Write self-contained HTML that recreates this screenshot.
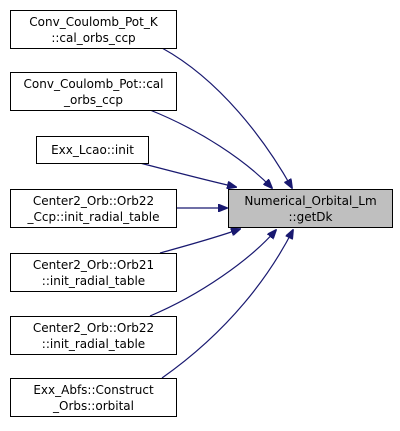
<!DOCTYPE html><html><head><style>body{margin:0;background:#fff}svg{display:block}text{font-family:"DejaVu Sans","Liberation Sans",sans-serif;font-size:12px;fill:#000}</style></head><body>
<svg width="400" height="431" viewBox="0 0 400 431">
<defs><marker id="a" markerWidth="10" markerHeight="8" refX="9" refY="4" orient="auto" markerUnits="userSpaceOnUse"><path d="M0,0L10,4L0,8z" fill="#191970" stroke="#191970"/></marker></defs>
<g fill="none" stroke="#191970" stroke-width="1.2" marker-end="url(#a)">
<path d="M162,48 C220,80 265,140 292,188"/>
<path d="M150,110 C200,130 245,160 272,188"/>
<path d="M140,163 C175,172 205,180 236,187"/>
<path d="M177,208 L227,208"/>
<path d="M160,253 C185,246 215,238 240,229"/>
<path d="M150,316 C200,295 250,260 276,230"/>
<path d="M162,378 C230,330 270,275 293,230"/>
</g>
<g stroke="#000" stroke-width="1" fill="#fff">
<rect x="10.5" y="10.5" width="166" height="38"/>
<rect x="10.5" y="72.5" width="166" height="38"/>
<rect x="36.5" y="136.5" width="112" height="27"/>
<rect x="10.5" y="189.5" width="166" height="38"/>
<rect x="10.5" y="253.5" width="166" height="38"/>
<rect x="10.5" y="316.5" width="166" height="38"/>
<rect x="10.5" y="378.5" width="166" height="38"/>
<rect x="228.5" y="189.5" width="164" height="38" fill="#bfbfbf"/>
</g>
<g text-anchor="middle">
<text x="93.5" y="26">Conv_Coulomb_Pot_K</text><text x="93.5" y="42">::cal_orbs_ccp</text>
<text x="93.5" y="88">Conv_Coulomb_Pot::cal</text><text x="93.5" y="104">_orbs_ccp</text>
<text x="92.5" y="154">Exx_Lcao::init</text>
<text x="93.5" y="205">Center2_Orb::Orb22</text><text x="93.5" y="221">_Ccp::init_radial_table</text>
<text x="93.5" y="269">Center2_Orb::Orb21</text><text x="93.5" y="285">::init_radial_table</text>
<text x="93.5" y="332">Center2_Orb::Orb22</text><text x="93.5" y="348">::init_radial_table</text>
<text x="93.5" y="394">Exx_Abfs::Construct</text><text x="93.5" y="410">_Orbs::orbital</text>
<text x="310.5" y="205">Numerical_Orbital_Lm</text><text x="310.5" y="221">::getDk</text>
</g>
</svg></body></html>
